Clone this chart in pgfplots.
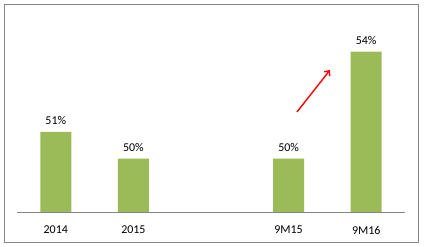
\documentclass[border=0pt]{standalone}
\usepackage{pgfplots}
\pgfplotsset{compat=1.18}
\usepackage{fontspec}
\setmainfont{Carlito}
\usetikzlibrary{arrows.meta}
\definecolor{barg}{RGB}{155,187,89}
\definecolor{frameg}{RGB}{134,134,134}
\begin{document}
\begin{tikzpicture}[x=1bp,y=1bp]
\path[use as bounding box] (0,0) rectangle (424,247);
\draw[frameg, line width=1bp] (4.5,5) rectangle (418.5,242.5);
\begin{axis}[
  at={(17bp,35bp)}, anchor=south west,
  scale only axis, width=388bp, height=200.6bp,
  xmin=-0.5, xmax=4.5, ymin=48, ymax=55.5,
  axis x line*=bottom, axis y line=none,
  x axis line style={draw=frameg, line width=1bp, -},
  xtick={0,1,3,4}, xticklabels={2014,2015,9M15,9M16},
  major tick length=0pt, ytick=\empty,
  xticklabel style={font=\fontsize{12}{14}\selectfont, yshift=-10.5bp},
  ybar, bar width=31bp,
  /pgf/number format/assume math mode=true,
  nodes near coords={\pgfmathprintnumber{\pgfplotspointmeta}\%},
  every node near coord/.append style={font=\fontsize{12}{14}\selectfont, black, yshift=3.5bp},
]
\addplot[fill=barg, draw=none] coordinates {(0,51) (1,50) (3,50) (4,54)};
\draw[red, line width=1.4bp, -{Straight Barb[length=4bp,width=7bp]}] (axis cs:3.108,51.74) -- (axis cs:3.534,53.31);
\end{axis}
\end{tikzpicture}
\end{document}
